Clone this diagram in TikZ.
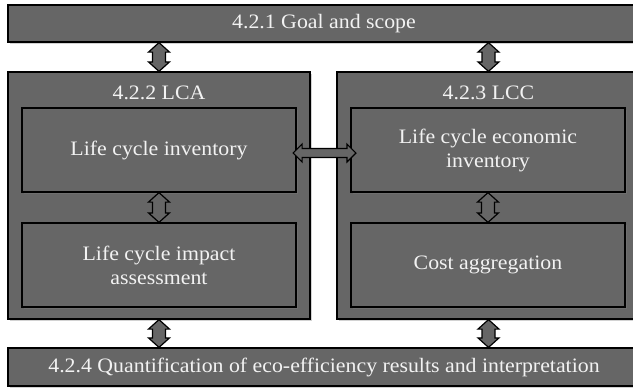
\documentclass[tikz,border=0pt]{standalone}
\usepackage{fontspec}
\setmainfont{Liberation Serif}[FakeStretch=1.065]
\usepackage{tikz}
\usetikzlibrary{shadows, calc}
\definecolor{boxgray}{RGB}{102,102,102}
\definecolor{labelwhite}{RGB}{242,242,242}
\tikzstyle{block} = [draw=black, line width=1.2pt, fill=boxgray, text=labelwhite, align=center, inner sep=0pt, font=\fontsize{20.5}{24}\selectfont, drop shadow={shadow xshift=1.5pt, shadow yshift=-1.5pt, opacity=0.35}]
\tikzstyle{heading} = [text=labelwhite, font=\fontsize{20.5}{24}\selectfont]
\tikzstyle{link} = [draw=black, line width=1.2pt, fill=boxgray, line join=miter]
% two-headed block arrows, tip to tip
\newcommand{\linkv}[2]{\filldraw[link] (#1) -- ++(10.5,9.5) -- ++(-4,0) -- ($(#2)+(6.5,-9.5)$) -- ++(4,0) -- (#2) -- ++(-10.5,-9.5) -- ++(4,0) -- ($(#1)+(-6.5,9.5)$) -- ++(-4,0) -- cycle;}
\newcommand{\linkh}[2]{\filldraw[link] (#1) -- ++(9,-9) -- ++(0,4.5) -- ($(#2)+(-9,-4.5)$) -- ++(0,-4.5) -- (#2) -- ++(-9,9) -- ++(0,-4.5) -- ($(#1)+(9,4.5)$) -- ++(0,4.5) -- cycle;}

\begin{document}
\begin{tikzpicture}[x=1pt, y=-1pt]
	\useasboundingbox[fill=white] (0,0) rectangle (633,391);
	% outer frames
	\node[block, minimum width=632pt, minimum height=37pt] (goal) at (324,23.5) {4.2.1 Goal and scope};
	\node[block, minimum width=302pt, minimum height=247pt] (lca) at (159,195.5) {};
	\node[block, minimum width=303pt, minimum height=247pt] (lcc) at (488.5,195.5) {};
	\node[block, minimum width=632pt, minimum height=38pt] (quant) at (324,367) {4.2.4 Quantification of eco-efficiency results and interpretation};
	\node[heading] (lcatitle) at (159,93) {4.2.2 LCA};
	\node[heading] (lcctitle) at (488.5,93) {4.2.3 LCC};
	% inner steps
	\node[block, minimum width=274pt, minimum height=84pt] (inv) at (159,150) {Life cycle inventory};
	\node[block, minimum width=274pt, minimum height=84pt] (lcia) at (159,265) {Life cycle impact\\assessment};
	\node[block, minimum width=274pt, minimum height=84pt] (econ) at (488,150) {Life cycle economic\\inventory};
	\node[block, minimum width=274pt, minimum height=84pt] (cost) at (488,265) {Cost aggregation};
	% block arrows
	\coordinate (lcatop) at (goal.south -| lca.north);
	\coordinate (lcctop) at (goal.south -| lcc.north);
	\coordinate (lcabot) at (quant.north -| lca.south);
	\coordinate (lccbot) at (quant.north -| lcc.south);
	\linkv{lcatop}{lca.north}
	\linkv{lcctop}{lcc.north}
	\linkv{inv.south}{lcia.north}
	\linkv{econ.south}{cost.north}
	\linkv{lca.south}{lcabot}
	\linkv{lcc.south}{lccbot}
	\coordinate (hl) at ($(inv.east)+(-3.5,3)$);
	\coordinate (hr) at ($(econ.west)+(5.5,3)$);
	\linkh{hl}{hr}
\end{tikzpicture}
\end{document}
